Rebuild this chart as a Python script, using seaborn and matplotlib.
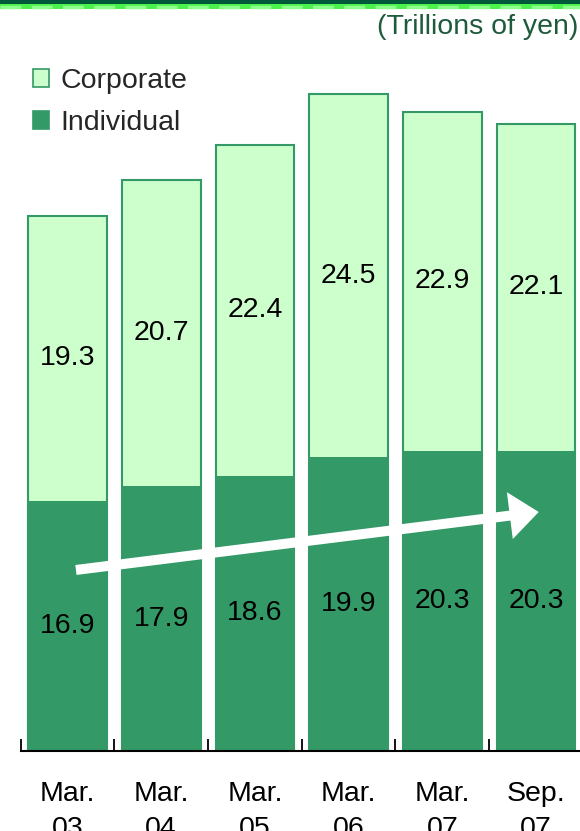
import matplotlib
matplotlib.use("Agg")
import matplotlib.pyplot as plt
from matplotlib.patches import Patch, Rectangle
from matplotlib.lines import Line2D
import seaborn as sns
import pandas as pd
import numpy as np

# Deposit balances by holder type (trillions of yen)
periods = ["Mar.\n03", "Mar.\n04", "Mar.\n05", "Mar.\n06", "Mar.\n07", "Sep.\n07"]
individual = [16.9, 17.9, 18.6, 19.9, 20.3, 20.3]
corporate = [19.3, 20.7, 22.4, 24.5, 22.9, 22.1]

DARK = "#339966"
LIGHT = "#CCFFCC"
TITLE_COLOR = "#1E5B3C"
FS = 20.5

sns.set_theme(style="white")
plt.rcParams["font.family"] = ["Liberation Sans", "DejaVu Sans"]

df = pd.DataFrame({
    "period": periods,
    "individual": individual,
    "corporate": corporate,
})
df["total"] = df["individual"] + df["corporate"]

W, H = 580, 831
fig = plt.figure(figsize=(W / 100, H / 100), dpi=100)
ax = fig.add_axes([20.65 / W, (H - 751) / H, (W - 20.65) / W, 739.5 / H])

# Stacked bars: full height in light green, individual share over it in dark green
sns.barplot(data=df, x="period", y="total", color=LIGHT, saturation=1,
            width=0.84, edgecolor=DARK, linewidth=1.5, ax=ax)
sns.barplot(data=df, x="period", y="individual", color=DARK, saturation=1,
            width=0.84, edgecolor=DARK, linewidth=0, ax=ax)

ax.set_xlim(-0.5, 5.47)
ax.set_ylim(0, 50)
ax.set_xlabel("")
ax.set_ylabel("")
ax.set_yticks([])
for side in ("left", "right", "top"):
    ax.spines[side].set_visible(False)
ax.spines["bottom"].set_color("black")
ax.spines["bottom"].set_linewidth(1.5)

# Labels centred under bars, tick marks on category boundaries
ax.set_xticks(range(len(periods)))
ax.set_xticklabels(periods, linespacing=1.45, va="top")
ax.tick_params(axis="x", which="major", length=0, pad=21.5, labelsize=FS,
               labelcolor="black")
ax.set_xticks(np.arange(-0.5, 5.0, 1.0), minor=True)
ax.tick_params(axis="x", which="minor", direction="in", length=9, width=1.3,
               color="black", bottom=True)

# Segment values
for i, (ind, corp) in enumerate(zip(individual, corporate)):
    ax.text(i, ind / 2, f"{ind:.1f}", ha="center", va="center",
            fontsize=FS, color="black")
    ax.text(i, ind + corp / 2, f"{corp:.1f}", ha="center", va="center",
            fontsize=FS, color="black")

# Upward trend arrow across the individual segments
ax.annotate("", xy=(5.03, 16.16), xytext=(0.09, 12.24),
            arrowprops=dict(arrowstyle="simple,head_length=2.1,head_width=3.4,tail_width=0.72",
                            color="white", shrinkA=0, shrinkB=0, mutation_scale=10,
                            linewidth=0))

# Legend
handles = [Patch(facecolor=LIGHT, edgecolor=DARK, linewidth=1.2, label="Corporate"),
           Patch(facecolor=DARK, edgecolor=DARK, linewidth=1.2, label="Individual")]
fig.legend(handles=handles, loc="upper left",
           bbox_to_anchor=(33 / W, 1 - 68 / H), frameon=False,
           fontsize=FS, handlelength=0.56, handleheight=0.56,
           handletextpad=0.4, labelspacing=0.56, borderpad=0,
           borderaxespad=0)

# Unit note
fig.text(578 / W, 1 - 27 / H, "(Trillions of yen)", ha="right", va="center",
         fontsize=FS, color=TITLE_COLOR)

# Header band
fig.patches.append(Rectangle((0, 1 - 4 / H), 1, 4 / H, transform=fig.transFigure,
                             facecolor="#00583A", edgecolor="none", zorder=5))
fig.patches.append(Rectangle((0, 1 - 9 / H), 1, 5 / H, transform=fig.transFigure,
                             facecolor="#4CF24C", edgecolor="none", zorder=5))
fig.lines.append(Line2D([0, 1], [1 - 6.5 / H, 1 - 6.5 / H], transform=fig.transFigure,
                        color="#8CFF8C", linewidth=2.5, dashes=(6, 3), zorder=6))

fig.savefig("out.png", dpi=100)
